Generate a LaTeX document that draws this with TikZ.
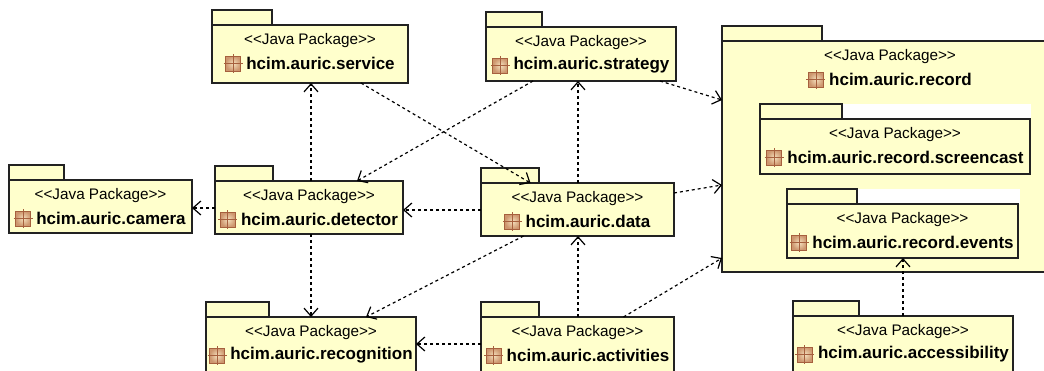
\documentclass[tikz,border=0pt]{standalone}
\usepackage{fontspec}
\setmainfont{Liberation Sans}
\usetikzlibrary{positioning,arrows.meta}

\definecolor{pkgfill}{RGB}{255,255,204}
\definecolor{pkgline}{RGB}{34,34,34}
\definecolor{iconfill}{RGB}{205,150,110}
\definecolor{iconlight}{RGB}{245,225,190}
\definecolor{iconline}{RGB}{166,96,62}

\tikzset{
  pkgbody/.style={draw=pkgline, fill=pkgfill, line width=1.3pt, inner sep=0pt, outer sep=0pt},
  pkgtab/.style={draw=pkgline, fill=pkgfill, line width=1.3pt},
  pkgtype/.style={font=\fontsize{15.3}{18}\selectfont, inner sep=0pt},
  pkgname/.style={font=\fontsize{17}{20}\selectfont\bfseries, inner sep=0pt},
  pkgicon/.style={draw=iconline, inner color=iconlight, outer color=iconfill, line width=1pt, inner sep=0pt, minimum size=15pt},
  pkgcross/.style={iconline, line width=0.9pt},
  dep/.style={dash pattern=on 3pt off 3pt, line width=1.2pt, black,
    -{Straight Barb[length=8pt,width=14pt,line width=1.2pt]}},
}

% name, left, top, right, bottom, right end of the tab, label
\newcommand{\pkgnode}[7]{
  \draw[pkgtab] (#2,#3-15) rectangle (#6,#3);
  \node[pkgbody, anchor=north west, minimum width=#4 pt-#2 pt, minimum height=#5 pt-#3 pt] (#1) at (#2,#3) {};
  \node[pkgtype] (#1-type) at ({(#2+#4)/2},#3+15.5) {{<}{<}Java Package{>}{>}};
  \node[pkgname] (#1-name) at ({(#2+#4)/2+10.5},#3+38.5) {#7};
  \node[pkgicon, left=5pt of #1-name] (#1-icon) {};
  \draw[pkgcross] ([yshift=1.5pt]#1-icon.north) -- ([yshift=-1.5pt]#1-icon.south);
  \draw[pkgcross] ([xshift=-1.5pt]#1-icon.west) -- ([xshift=1.5pt]#1-icon.east);
}

\begin{document}
\begin{tikzpicture}[x=1pt, y=-1pt]

\useasboundingbox (0,0) rectangle (1044,370);
\clip (0,0) rectangle (1044,370);

% the outer package runs off the page
\pkgnode{record}{722}{41}{1058}{272}{822}{hcim.auric.record}

% white strips behind the inner tabs
\fill[white] (842,104) rectangle (1031,119);
\fill[white] (857,189) rectangle (1020,204);

\pkgnode{screencast}{760}{119}{1030}{174}{842}{hcim.auric.record.screencast}
\pkgnode{events}{787}{204}{1018}{258}{857}{hcim.auric.record.events}
\pkgnode{service}{212}{25}{408}{83}{272}{hcim.auric.service}
\pkgnode{strategy}{486}{27}{676}{81}{542}{hcim.auric.strategy}
\pkgnode{camera}{9}{180}{192}{233}{64}{hcim.auric.camera}
\pkgnode{detector}{215}{181}{403}{234}{273}{hcim.auric.detector}
\pkgnode{data}{481}{183}{674}{236}{539}{hcim.auric.data}
\pkgnode{recognition}{206}{317}{416}{374}{269}{hcim.auric.recognition}
\pkgnode{activities}{481}{317}{674}{374}{539}{hcim.auric.activities}
\pkgnode{accessibility}{793}{316}{1013}{374}{859}{hcim.auric.accessibility}

\draw[dep] ([xshift=2pt]detector.north) -- ([xshift=1pt]service.south);
\draw[dep] ([xshift=51pt]service.south) -- ([xshift=-47pt]data.north);
\draw[dep] ([xshift=-48pt]strategy.south) -- ([xshift=48pt]detector.north);
\draw[dep] ([xshift=0.5pt]data.north) -- ([xshift=-3pt]strategy.south);
\draw[dep] ([xshift=79pt]strategy.south) -- ([yshift=56.5pt]record.west);
\draw[dep] ([yshift=16.5pt]data.east) -- ([yshift=-28.5pt]record.west);
\draw[dep] ([yshift=-0.5pt]data.west) -- ([yshift=-2.5pt]detector.east);
\draw[dep] ([yshift=-0.5pt]detector.west) -- ([yshift=-1.5pt]camera.east);
\draw[dep] ([xshift=2pt]detector.south) -- (recognition.north);
\draw[dep] ([xshift=-54pt]data.south) -- ([xshift=55pt]recognition.north);
\draw[dep] ([yshift=1.5pt]activities.west) -- ([yshift=1.5pt]recognition.east);
\draw[dep] ([xshift=0.5pt]activities.north) -- ([xshift=0.5pt]data.south);
\draw[dep] ([xshift=46pt]activities.north) -- ([yshift=-101.5pt]record.west);
\draw[dep] (accessibility.north) -- ([xshift=0.5pt]events.south);

\end{tikzpicture}
\end{document}
